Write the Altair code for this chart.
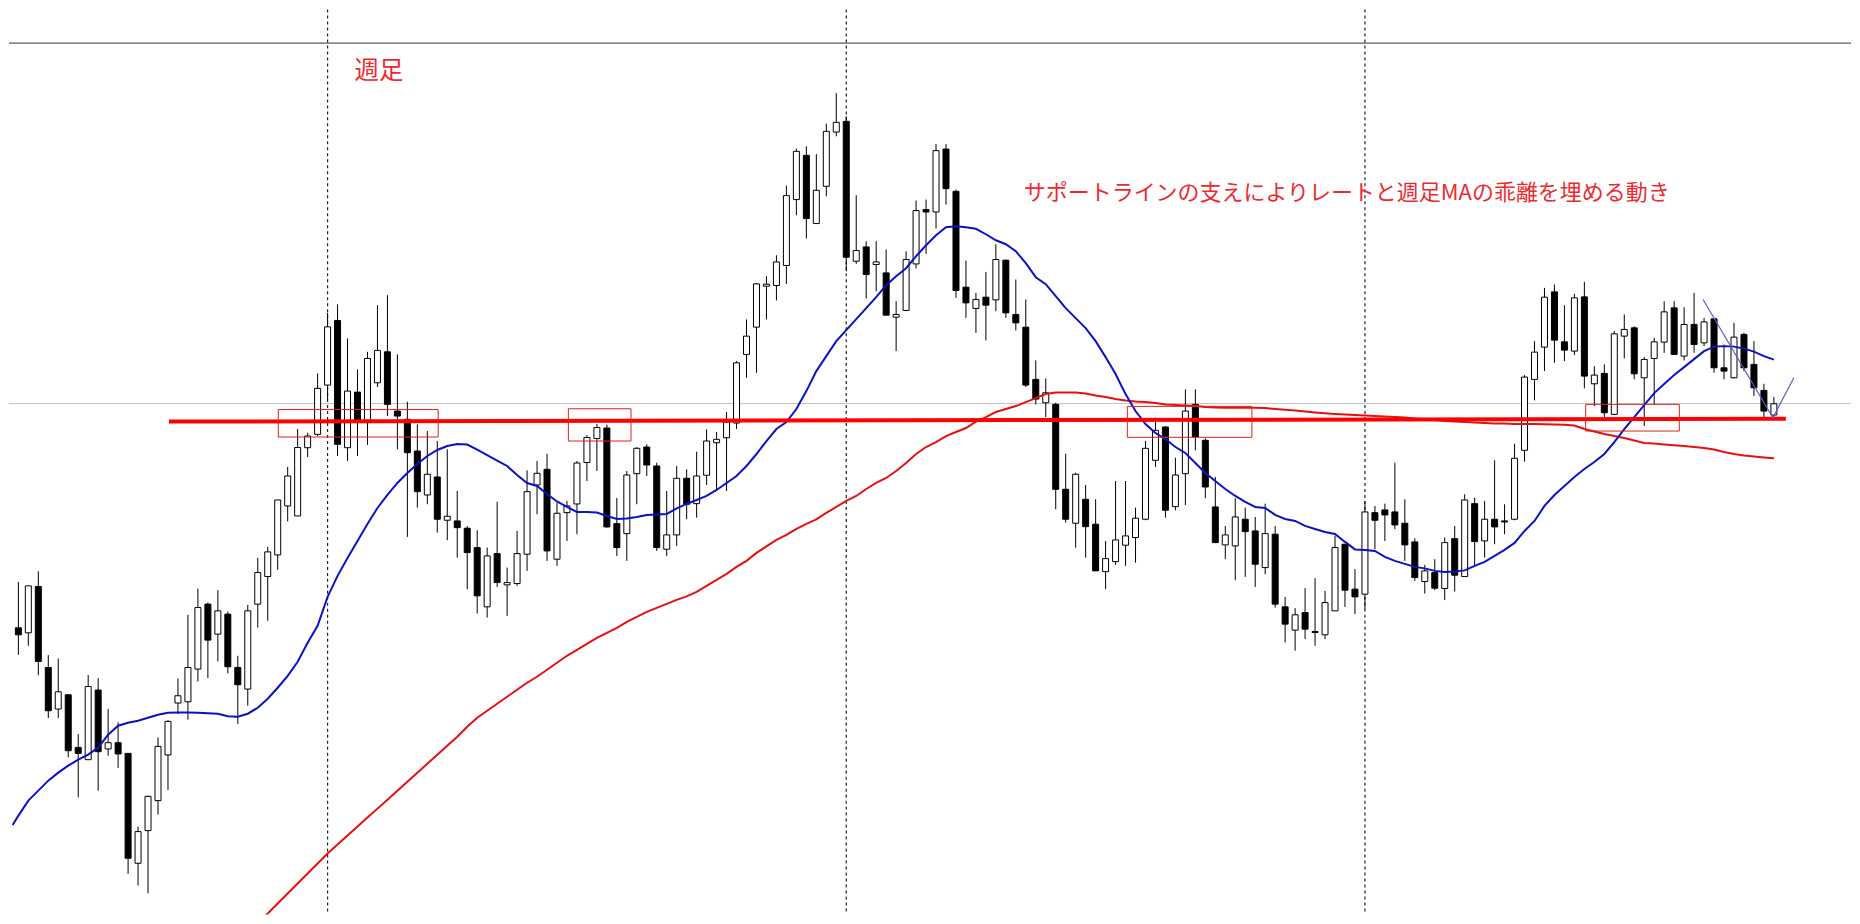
import altair as alt
import pandas as pd

# Weekly candles (index 0..176), price units
opens = [373, 368, 414.4, 333.3, 291.7, 306, 253.3, 241, 310.7, 251.7,
         258, 247.3, 137.3, 170, 200, 245.7, 297.7, 299, 331.7, 396.7,
         366.7, 386.7, 333.3, 311.7, 396.7, 424.4, 446, 495, 485, 553.3,
         566.7, 616, 680.7, 553.3, 609, 580.7, 618.3, 649.3, 590, 581.7,
         550, 506, 524, 480.7, 480, 472.7, 453.3, 394, 447.3, 416,
         417.3, 446.7, 516, 531.7, 441.7, 488.3, 497, 538.5, 562.5, 573,
         477.3, 467.3, 527.3, 554, 535, 451.7, 466, 522.7, 497.3, 525.7,
         558.3, 563.3, 578, 646.7, 674, 715, 715.7, 735.7, 801.7, 846,
         777.7, 815, 869.3, 880, 740, 754.3, 736.7, 728.3, 684, 690.7,
         737.3, 791.7, 789.3, 852.3, 810, 714, 692.7, 704, 701.3, 741,
         686.7, 674, 621.7, 598.3, 596.7, 511.7, 477.7, 501.7, 476.7, 429.3,
         439.3, 455.7, 463.3, 481.7, 540.7, 574, 494.3, 527.3, 596.7, 560.7,
         494, 456, 455, 481.7, 470, 433.3, 466.7, 394, 370.7, 388.3,
         369.3, 366, 390, 456.7, 411.7, 406.7, 488.3, 491, 489, 477.7,
         459, 419.3, 428.3, 412.3, 462.3, 424.3, 497.3, 460, 481.7, 480,
         481.7, 550.7, 621.7, 654, 709.3, 659.3, 650, 704.3, 617.3, 627.7,
         586.7, 665, 673.3, 623.3, 642.7, 659, 693.3, 645, 676.7, 658.3,
         682.3, 633.3, 623.3, 666.7, 636.7, 610.7, 586]
highs = [419, 415, 429.5, 345.7, 342.3, 306, 266.7, 325.7, 322.7, 291.7,
         278.3, 247.3, 174, 205, 263.3, 280.7, 322.3, 386, 412.3, 398.3,
         410.7, 389.3, 345, 396, 443, 454, 501, 534, 572, 568.3,
         627.7, 688.3, 696.7, 662.7, 631.7, 649.3, 696, 706, 646.7, 599.3,
         576.7, 570, 560, 551.7, 510, 475, 470.7, 453.3, 499.3, 433.3,
         470, 530.7, 540, 547.3, 498.3, 500, 540, 566, 577, 576.5,
         503, 530, 554, 556.7, 538.3, 510, 535, 531.7, 549.3, 571.7,
         569, 589, 640, 681.7, 718.3, 725, 746, 815.7, 852.7, 855,
         847.3, 877.7, 908.3, 885, 806, 760, 760, 751.7, 700, 750,
         800.7, 801.7, 857.3, 857.3, 811.7, 740.7, 708.3, 729.3, 757, 741.7,
         721.7, 701.7, 640.7, 622.7, 598.3, 547.3, 528.3, 516, 501.7, 460,
         520, 520, 493.3, 560, 583.3, 575, 543.3, 611.7, 611.7, 562.7,
         524, 475, 502.7, 493.3, 484, 497.3, 475, 404, 392.7, 412.7,
         422.7, 410, 465, 456.7, 431.7, 500, 495, 497.3, 538.3, 501.7,
         462.7, 436, 441.7, 463.3, 475, 506.7, 503.3, 500, 540.7, 496.7,
         557.3, 626, 660, 713.3, 716.7, 696, 707.3, 719.3, 635, 636.7,
         670, 686.7, 675, 644, 663.3, 700, 700, 694, 708.3, 683.3,
         682.3, 656.7, 678.3, 668.3, 660, 617.3, 604]
lows = [346, 355, 325.5, 282.7, 282.7, 243.3, 203.3, 241, 210, 245,
        232.7, 126.7, 115, 107.3, 186, 210.7, 286.7, 281, 319.3, 322.7,
        339.3, 327.3, 276.7, 295, 373.3, 380, 431, 479.5, 485, 544,
        565, 601.7, 545, 540, 545, 556, 614, 585, 551.7, 464,
        493.3, 496.7, 468.3, 460.7, 443.3, 411.7, 387.3, 383.3, 414, 385,
        415, 430, 486.7, 440, 435, 460, 466.7, 520, 530, 473.3,
        445, 440, 496.7, 525, 450, 445, 455, 481.7, 483.3, 516,
        510, 510, 572, 623.3, 628.3, 681.7, 700.7, 717.3, 786, 762.7,
        777.7, 805, 865, 730, 737.3, 702.7, 710, 686, 650, 690,
        732.7, 747.3, 772.7, 796.7, 703.3, 683.3, 668.3, 660.7, 690, 683.3,
        670.7, 614, 596.7, 584, 491.7, 478.3, 453.3, 443.3, 430, 411.7,
        436, 435, 438.3, 480.7, 534, 483.3, 490.7, 496, 550.7, 502.7,
        458.3, 441.7, 420.7, 424, 414, 426.7, 393.3, 358.3, 350, 361.7,
        355, 361.7, 390, 394, 386.7, 391.7, 451.7, 460, 471.7, 440,
        420, 407.3, 410.7, 400.7, 409.3, 424.3, 435, 443.3, 456.7, 466.7,
        480.7, 539.3, 600.7, 630, 638.3, 640, 646, 612.7, 595, 580,
        586, 642.7, 621.7, 575, 596.7, 648.3, 646.7, 640.7, 648.3, 655,
        628.3, 621.7, 622.7, 630, 605, 583.3, 583.3]
closes = [366, 415, 339.3, 290, 309, 250, 247.3, 314.3, 249, 258,
          246.7, 142.3, 169, 204.3, 254.3, 279.3, 305, 333.3, 393.3, 360.7,
          390, 334, 316, 390, 428.3, 449, 501, 525, 553.5, 565,
          612.7, 674.3, 556.7, 610, 580, 642.7, 650.7, 596.7, 585, 548.3,
          509.3, 526.7, 481.7, 484.7, 473.3, 448.3, 405, 445, 418.3, 418.3,
          447.3, 509.3, 527.7, 450, 487.7, 495, 538, 563.5, 573.5, 474,
          453.3, 526, 552.7, 536, 453.3, 466, 522.7, 496.7, 525, 560,
          561.7, 579, 638.3, 665, 717.3, 717, 739.3, 805.7, 850, 782.7,
          811, 870, 879, 744, 750.7, 726.7, 739.3, 686, 686.7, 741.7,
          790.7, 789.3, 850.7, 812.7, 710.7, 698.3, 701.7, 696, 741.7, 688.3,
          678.3, 616, 602, 608.3, 511.7, 481.7, 526.7, 474.3, 430, 442.3,
          461, 465, 482.7, 552.7, 570.7, 490.7, 526, 590, 564, 514,
          458.3, 466, 484, 469.3, 436.7, 467.3, 396.7, 376.7, 386, 371.7,
          368.3, 398.3, 453.3, 410.7, 404, 489, 480.7, 486, 476, 456,
          423.3, 430, 412.7, 458.3, 425.7, 501, 459.3, 481.7, 474, 479,
          542.7, 624, 649, 704, 661, 651, 703.3, 625, 626, 588.3,
          667.3, 671.7, 627.3, 641.7, 659.3, 689.3, 646.7, 676.7, 656.7, 679.3,
          633.3, 630, 664, 633.3, 613.3, 590, 597.3]

# Short moving average (blue): a reading just left of the first candle, then one per candle
blue_ma_lead_idx = -0.57
blue_ma_lead = 175.7
blue_ma = [185, 200, 210, 220, 228, 235, 241, 246, 253, 266,
           275, 278, 280, 283, 286, 288, 288.3, 288.3, 288, 287.5,
           287, 284.5, 284, 287, 293, 302, 313, 325, 339, 358,
           375, 404, 425, 443, 460, 477, 493, 506, 518, 528,
           537, 545, 551, 555, 557, 556.5, 551.5, 546, 540.5, 535,
           526, 518, 515, 507, 499.5, 494, 489, 489, 488.5, 485,
           482, 482.5, 484, 486, 486.5, 487, 492.5, 497, 501, 505,
           511, 518, 525, 535, 547, 560, 572, 579, 592, 610,
           630, 645, 660, 671, 682, 693, 704, 716, 725, 733,
           745, 756, 766, 774, 775, 774, 772.5, 767, 761, 757,
           750, 738, 724, 717, 705, 693, 683, 673, 660, 644,
           627, 607, 590, 577, 568, 562, 554, 548, 538, 528,
           520, 512, 505, 499, 494, 493, 486, 482, 480, 475,
           472, 469, 467, 459, 451.5, 451, 450, 444, 440, 437,
           434, 432.5, 430, 429, 429.5, 430.5, 435, 439, 445, 451,
           458, 470, 480, 495, 506, 515, 524, 532, 539, 547,
           559, 572, 584, 596, 608, 617, 626, 634, 642, 650,
           654.5, 655, 654.5, 652.5, 649.5, 645, 641.5]

# Long moving average (red), starting at candle 24
red_ma_start = 24
red_ma = [78, 87, 97, 107, 117, 127, 137, 147, 156, 165,
          174, 183, 192, 201, 210, 219, 228, 237, 246, 255,
          264, 274, 283, 290, 297, 304, 311, 318, 324, 331,
          338, 345, 351, 357, 363, 368, 373, 379, 384, 389,
          393, 397, 401, 404.5, 409, 415, 421, 427, 434, 440,
          448, 454.5, 461, 466, 472, 477, 481.5, 488, 494, 500,
          505, 512, 518, 523, 530, 538, 547, 554, 559, 565,
          569, 573, 579.5, 584, 589, 592, 595, 599, 603, 607,
          608.5, 608.5, 608.5, 607.5, 605.5, 604, 602, 600.5, 599.5, 599,
          598, 596.5, 596, 595.5, 595, 594, 593.5, 593.3, 593.3, 593.3,
          593.3, 593, 592, 591.2, 590.5, 589.5, 588.5, 587.7, 587, 586.5,
          586, 585.5, 585, 584.5, 584, 583.5, 582.5, 581.5, 581, 580,
          579.5, 579, 578.5, 578, 577.5, 577.5, 577, 577, 577, 576.7,
          576.5, 576.3, 575.5, 572, 569.5, 567, 565, 563, 560.5, 558,
          557.5, 556.5, 555.7, 555, 554, 553, 551.5, 549, 547, 545.5,
          544.5, 543.5, 542.7]

support_idx = [15.1, 177.2]
support_price = [579.5, 582.3]

box_x1 = [26.06, 55.14, 111.18, 157.13]
box_x2 = [42.09, 61.42, 123.67, 166.52]
box_lo = [564, 560, 563.7, 570]
box_hi = [591.5, 592.3, 594.7, 596.7]

year_lines = [31, 83, 135]
h_levels = [958.3, 597.5]
h_colors = ["#8a8a8a", "#c4c4c4"]
h_widths = [1.6, 1]

trend_idx = [168.9, 175.9, 178.0]
trend_price = [701.7, 583.3, 623.3]

labels = ["週足", "サポートラインの支えによりレートと週足MAの乖離を埋める動き"]
label_idx = [33.7, 100.8]
label_price = [929, 808]
label_size = [24.5, 22]

W, H = 1844, 906
xs = alt.Scale(domain=[-0.438, 183.23], nice=False, zero=False)
ys = alt.Scale(domain=[86, 992], nice=False, zero=False)

n = len(opens)
candles = pd.DataFrame({
    "idx": list(range(n)), "open": opens, "high": highs, "low": lows, "close": closes,
})
candles["lo"] = candles[["open", "close"]].min(axis=1)
candles["hi"] = candles[["open", "close"]].max(axis=1)
candles["up"] = candles["close"] >= candles["open"]

blue_df = pd.DataFrame({
    "idx": [blue_ma_lead_idx] + list(range(len(blue_ma))),
    "v": [blue_ma_lead] + blue_ma,
})
red_df = pd.DataFrame({"idx": [red_ma_start + i for i in range(len(red_ma))], "v": red_ma})
sup_df = pd.DataFrame({"idx": support_idx, "v": support_price})
box_df = pd.DataFrame({"x1": box_x1, "x2": box_x2, "lo": box_lo, "hi": box_hi})
yl_df = pd.DataFrame({"idx": year_lines})
hl_df = pd.DataFrame({"v": h_levels, "c": h_colors, "w": h_widths})
tr_df = pd.DataFrame({"idx": trend_idx, "v": trend_price, "o": [0, 1, 2]})
lab_df = pd.DataFrame({"idx": label_idx, "v": label_price, "t": labels, "s": label_size})

X = lambda f: alt.X(f, type="quantitative", scale=xs, axis=None)
Y = lambda f: alt.Y(f, type="quantitative", scale=ys, axis=None)

hlines = alt.Chart(hl_df).mark_rule().encode(
    y=Y("v"),
    color=alt.Color("c:N", scale=None),
    strokeWidth=alt.StrokeWidth("w:Q", scale=None),
)

vlines = alt.Chart(yl_df).mark_rule(color="#222222", strokeWidth=1.2, strokeDash=[3, 3]).encode(
    x=X("idx")
)

wicks = alt.Chart(candles).mark_rule(color="black", strokeWidth=1).encode(
    x=X("idx"), y=Y("low"), y2="high"
)

bodies = alt.Chart(candles).mark_bar(size=6, stroke="black", strokeWidth=1).encode(
    x=X("idx"), y=Y("lo"), y2="hi",
    fill=alt.condition("datum.up", alt.value("white"), alt.value("black")),
)

red_line = alt.Chart(red_df).mark_line(color="#e8100f", strokeWidth=2, clip=True).encode(
    x=X("idx"), y=Y("v")
)
blue_line = alt.Chart(blue_df).mark_line(color="#0b12c6", strokeWidth=2, clip=True).encode(
    x=X("idx"), y=Y("v")
)
support = alt.Chart(sup_df).mark_line(color="#ff0000", strokeWidth=4).encode(
    x=X("idx"), y=Y("v")
)
boxes = alt.Chart(box_df).mark_rect(fill=None, stroke="#e02020", strokeWidth=1).encode(
    x=X("x1"), x2="x2", y=Y("lo"), y2="hi"
)
trend = alt.Chart(tr_df).mark_line(color="#5a5ad8", strokeWidth=1.2).encode(
    x=X("idx"), y=Y("v"), order="o:Q"
)
texts = alt.Chart(lab_df).mark_text(
    align="left", baseline="middle", font="Noto Sans CJK JP", color="#ee2a30"
).encode(
    x=X("idx"), y=Y("v"), text="t:N", size=alt.Size("s:Q", scale=None)
)

chart = alt.layer(
    hlines, vlines, wicks, bodies, red_line, blue_line, support, boxes, trend, texts
).properties(width=W, height=H, padding=0, background="white").configure_view(stroke=None)

chart.save("out.html", embed_options={"renderer": "svg", "actions": False})
